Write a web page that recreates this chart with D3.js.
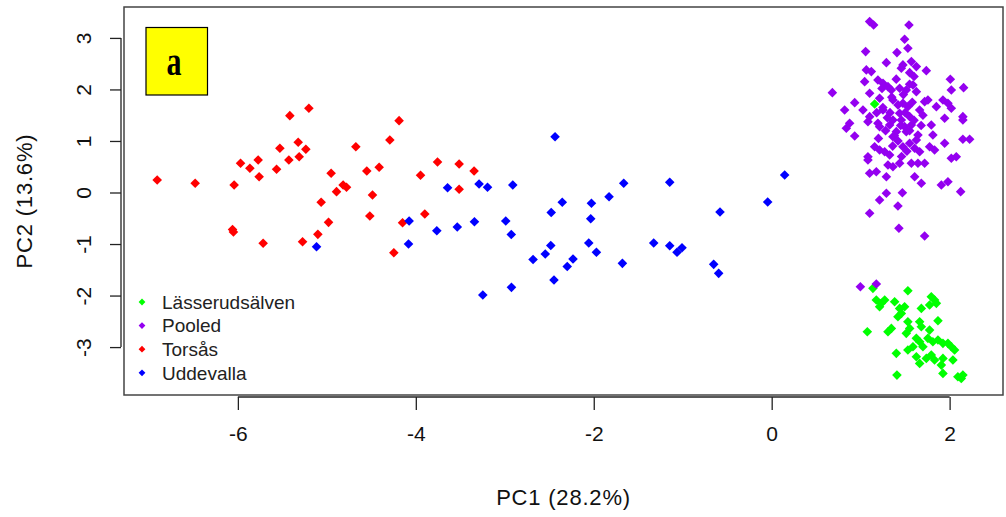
<!DOCTYPE html>
<html>
<head>
<meta charset="utf-8">
<script src="https://cdn.jsdelivr.net/npm/d3@7"></script>
<style>
body { margin: 0; background: #fff; }
svg text { font-family: "Liberation Sans", Arial, sans-serif; }
</style>
</head>
<body>
<svg width="1006" height="517"></svg>
<script>
// PCA scores, one [PC1, PC2] pair per individual
var lasserud = [
	[1.157, 1.718], [1.138, -1.860], [1.531, -1.906], [1.176, -2.087], [1.232, -2.151],
	[1.213, -2.217], [1.270, -2.087], [1.382, -2.120], [1.438, -2.249], [1.494, -2.217],
	[1.457, -2.346], [1.419, -2.412], [1.682, -2.249], [1.794, -2.023], [1.831, -2.087],
	[1.851, -2.151], [1.775, -2.184], [1.869, -2.489], [1.075, -2.703], [1.307, -2.703],
	[1.345, -2.637], [1.531, -2.509], [1.551, -2.637], [1.513, -2.734], [1.663, -2.509],
	[1.682, -2.606], [1.775, -2.670], [1.626, -2.831], [1.663, -2.897], [1.756, -2.831],
	[1.812, -2.897], [1.869, -2.864], [1.925, -2.928], [1.981, -2.928], [2.019, -2.994],
	[2.056, -3.058], [1.401, -3.122], [1.531, -3.058], [1.626, -3.188], [1.663, -3.317],
	[1.738, -3.220], [1.794, -3.155], [1.831, -3.252], [1.925, -3.220], [1.907, -3.350],
	[1.925, -3.511], [2.037, -3.252], [1.408, -3.544], [2.093, -3.577], [2.131, -3.608],
	[2.149, -3.544], [1.700, -2.994], [1.588, -2.994]
];

var pooled = [
	[1.101, 3.317], [1.146, 3.252], [1.543, 3.252], [1.494, 2.975], [1.531, 2.800],
	[1.056, 2.734], [1.408, 2.715], [1.289, 2.520], [1.475, 2.476], [1.457, 2.412],
	[1.570, 2.540], [1.626, 2.443], [1.738, 2.365], [1.064, 2.379], [1.120, 2.346],
	[1.551, 2.326], [2.008, 2.198], [2.157, 2.035], [0.682, 1.938], [1.045, 2.151],
	[1.194, 2.184], [1.251, 2.120], [1.307, 2.054], [1.345, 1.990], [1.101, 1.926],
	[1.213, 1.829], [1.438, 2.023], [1.513, 1.990], [1.588, 2.087], [1.626, 1.957],
	[0.933, 1.744], [0.820, 1.602], [1.026, 1.602], [1.251, 1.602], [1.363, 1.796],
	[1.475, 1.732], [1.531, 1.666], [1.663, 1.602], [1.719, 1.763], [1.756, 1.796],
	[1.851, 1.666], [1.925, 1.796], [1.981, 1.732], [2.019, 1.635], [2.019, 1.990],
	[2.149, 1.472], [2.149, 1.408], [1.944, 1.441], [1.101, 1.472], [1.082, 1.375],
	[0.876, 1.344], [0.839, 1.247], [0.933, 1.097], [1.194, 1.344], [1.213, 1.278],
	[1.326, 1.311], [1.363, 1.408], [1.438, 1.538], [1.457, 1.408], [1.494, 1.278],
	[1.551, 1.472], [1.570, 1.311], [1.513, 1.181], [1.401, 1.181], [1.363, 1.083],
	[1.644, 1.117], [1.626, 1.019], [1.794, 1.311], [1.812, 1.117], [1.944, 0.955],
	[2.149, 1.033], [2.225, 1.033], [1.157, 0.889], [1.213, 0.825], [1.270, 0.792],
	[1.082, 0.695], [1.082, 0.631], [1.326, 0.728], [1.475, 0.889], [1.551, 0.955],
	[1.607, 0.858], [1.663, 0.792], [1.775, 0.889], [1.831, 0.825], [2.019, 0.664],
	[2.075, 0.695], [1.307, 0.534], [1.363, 0.501], [1.438, 0.567], [1.570, 0.567],
	[1.644, 0.567], [1.719, 0.567], [1.101, 0.373], [1.176, 0.404], [1.289, 0.307],
	[1.607, 0.307], [1.682, 0.179], [1.907, 0.146], [1.981, 0.210], [2.124, 0.016],
	[1.469, -0.004], [1.289, -0.016], [1.213, -0.146], [1.419, -0.262], [1.101, -0.404],
	[1.430, -0.695], [1.719, -0.845], [0.997, -1.829], [1.176, -1.777],
	[1.35, 1.85], [1.42, 1.70], [1.50, 1.55], [1.30, 1.45], [1.45, 1.30],
	[1.55, 1.20], [1.38, 1.10], [1.60, 1.40], [1.25, 1.65], [1.48, 1.90],
	[1.58, 1.75], [1.33, 1.55], [1.42, 1.00], [1.52, 0.80], [1.36, 0.90],
	[1.68, 1.30], [1.18, 1.55], [1.24, 2.02], [1.40, 2.20], [1.60, 2.25],
	[1.70, 1.50], [1.28, 1.20], [1.46, 0.70], [1.20, 1.05], [1.55, 2.10]
];

var torsas = [
	[-6.907, 0.243], [-6.480, 0.179], [-6.042, 0.146], [-6.060, -0.718], [-6.050, -0.767],
	[-5.716, -0.986], [-5.970, 0.567], [-5.865, 0.470], [-5.772, 0.631], [-5.761, 0.307],
	[-5.565, 0.450], [-5.528, 0.858], [-5.427, 0.631], [-5.416, 1.491], [-5.322, 0.975],
	[-5.311, 0.695], [-5.236, 0.839], [-5.202, 1.635], [-5.273, -0.955], [-5.101, -0.812],
	[-5.064, -0.190], [-4.981, -0.579], [-4.952, 0.373], [-4.891, 0.016], [-4.817, 0.146],
	[-4.779, 0.101], [-4.674, 0.889], [-4.551, 0.417], [-4.517, -0.456], [-4.487, -0.049],
	[-4.412, 0.489], [-4.292, 1.019], [-4.188, 1.394], [-4.247, -1.169], [-4.149, -0.586],
	[-3.947, 0.334], [-3.899, -0.417], [-3.756, 0.592], [-3.513, 0.553], [-3.513, 0.062],
	[-3.345, 0.417]
];

var uddevalla = [
	[-5.116, -1.052], [-4.075, -0.553], [-4.082, -1.000], [-3.764, -0.742], [-3.643, 0.093],
	[-3.534, -0.670], [-3.341, -0.567], [-3.289, 0.165], [-3.194, 0.101], [-2.989, -0.553],
	[-2.927, -0.816], [-2.910, 0.146], [-3.247, -1.990], [-2.925, -1.841], [-2.435, 1.083],
	[-2.354, -0.188], [-2.478, -0.388], [-2.483, -1.029], [-2.545, -1.194], [-2.682, -1.301],
	[-2.447, -1.699], [-2.298, -1.437], [-2.233, -1.291], [-2.026, -0.210], [-2.034, -0.509],
	[-1.828, -0.082], [-1.663, 0.179], [-2.056, -0.981], [-1.970, -1.161], [-1.678, -1.375],
	[-1.146, 0.198], [-1.326, -0.981], [-1.146, -1.033], [-1.064, -1.161], [-1.008, -1.072],
	[-0.581, -0.379], [-0.652, -1.394], [-0.596, -1.569], [-0.045, -0.184], [0.146, 0.340]
];

var groupNames = ["Lässerudsälven", "Pooled", "Torsås", "Uddevalla"];
var groupColors = ["#00ff00", "#9400f0", "#ff0000", "#0000ff"];
var groupData = [lasserud, pooled, torsas, uddevalla];

var xTicks = [-6, -4, -2, 0, 2];
var yTicks = [-3, -2, -1, 0, 1, 2, 3];

var svg = d3.select("svg"),
	width = +svg.attr("width"),
	height = +svg.attr("height");

var margin = {top: 7, right: 3, bottom: 122, left: 124};

var x = d3.scaleLinear()
	.domain([-7.28, 2.6])
	.range([margin.left, width - margin.right]);

var y = d3.scaleLinear()
	.domain([-3.93, 3.6])
	.range([height - margin.bottom, margin.top]);

var diamond = function(r) {
	return "M0," + (-r) + "L" + r + ",0L0," + r + "L" + (-r) + ",0Z";
}

var tickText = function(d) {
	return d < 0 ? "-" + Math.abs(d) : d;
}

// x axis, R style: line only from first to last tick
var xAxis = svg.append("g")
	.attr("transform", "translate(0," + (y.range()[0] + 2) + ")")
	.call(d3.axisBottom(x).tickValues(xTicks).tickSize(13).tickPadding(16));
xAxis.select(".domain").remove();
xAxis.append("line")
	.attr("x1", x(xTicks[0])).attr("x2", x(xTicks[xTicks.length - 1]));
xAxis.selectAll("line").attr("stroke", "#222").attr("stroke-width", 1.3);
xAxis.selectAll("text")
	.attr("fill", "#111")
	.style("font-size", "21px")
	.text(tickText);

var yAxis = svg.append("g")
	.attr("transform", "translate(" + (x.range()[0] - 3) + ",0)")
	.call(d3.axisLeft(y).tickValues(yTicks).tickSize(11));
yAxis.select(".domain").remove();
yAxis.append("line")
	.attr("y1", y(yTicks[0])).attr("y2", y(yTicks[yTicks.length - 1]));
yAxis.selectAll("line").attr("stroke", "#222").attr("stroke-width", 1.3);
yAxis.selectAll("text")
	.attr("x", 0)
	.attr("dy", "0.36em")
	.attr("text-anchor", "middle")
	.attr("transform", "translate(-38,0) rotate(-90)")
	.attr("fill", "#111")
	.style("font-size", "21px")
	.text(tickText);

// plot box
svg.append("rect")
	.attr("x", margin.left)
	.attr("y", margin.top)
	.attr("width", width - margin.left - margin.right)
	.attr("height", height - margin.top - margin.bottom)
	.attr("fill", "none")
	.attr("stroke", "#444")
	.attr("stroke-width", 1.5);

// axis titles
svg.append("text")
	.attr("x", (margin.left + width - margin.right) / 2)
	.attr("y", 505)
	.attr("text-anchor", "middle")
	.attr("fill", "#111")
	.style("font-size", "22px")
	.style("letter-spacing", "0.8px")
	.text("PC1 (28.2%)");

svg.append("text")
	.attr("transform", "translate(32," + ((margin.top + height - margin.bottom) / 2) + ") rotate(-90)")
	.attr("text-anchor", "middle")
	.attr("fill", "#111")
	.style("font-size", "22px")
	.style("letter-spacing", "0.8px")
	.text("PC2 (13.6%)");

// points, drawn group by group in legend order
groupData.forEach(function(pts, i) {
	svg.append("g")
		.selectAll("path")
		.data(pts)
		.enter()
		.append("path")
		.attr("d", diamond(4.8))
		.attr("transform", function(d) { return "translate(" + x(d[0]) + "," + y(d[1]) + ")"; })
		.attr("fill", groupColors[i]);
});

// legend
var legend = svg.append("g")
	.selectAll("g")
	.data(groupNames)
	.enter()
	.append("g")
	.attr("transform", function(d, i) { return "translate(142," + (302 + i * 23.6) + ")"; });

legend.append("path")
	.attr("d", diamond(3.4))
	.attr("fill", function(d, i) { return groupColors[i]; });

legend.append("text")
	.attr("x", 20)
	.attr("dy", "0.36em")
	.attr("fill", "#222")
	.style("font-size", "19px")
	.text(function(d) { return d; });

// panel label
svg.append("rect")
	.attr("x", 146)
	.attr("y", 27.5)
	.attr("width", 61.5)
	.attr("height", 67.5)
	.attr("fill", "#ffff00")
	.attr("stroke", "#000")
	.attr("stroke-width", 1.2);

svg.append("text")
	.attr("transform", "translate(174,75) scale(0.75,1)")
	.attr("text-anchor", "middle")
	.style("font-family", "'Liberation Serif', 'Times New Roman', serif")
	.style("font-weight", "bold")
	.style("font-size", "40px")
	.attr("fill", "#000")
	.text("a");
</script>
</body>
</html>
